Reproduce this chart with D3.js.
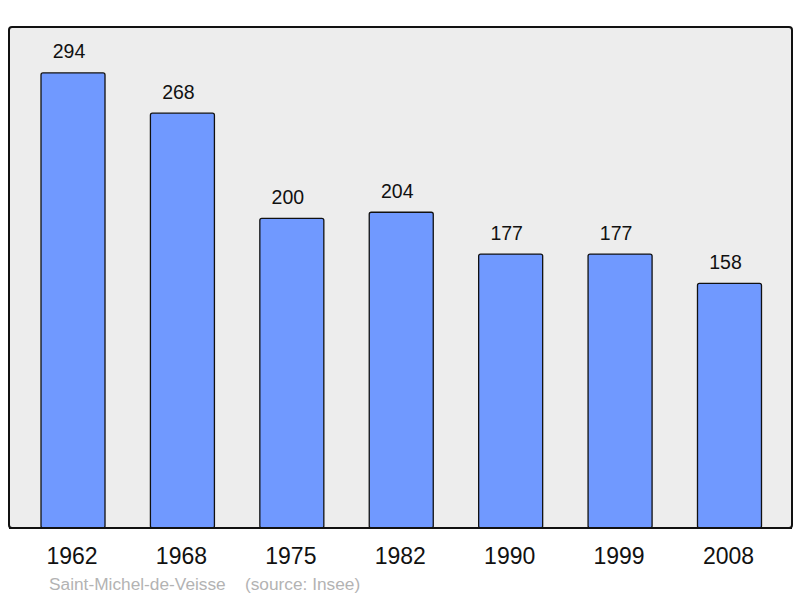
<!DOCTYPE html>
<html><head><meta charset="utf-8">
<script src="https://cdn.jsdelivr.net/npm/d3@7"></script>
<style>body{margin:0;background:#fff}svg{display:block}</style>
</head><body>
<script>
const years = ["1962","1968","1975","1982","1990","1999","2008"];
const population = [294,268,200,204,177,177,158];
const commune = "Saint-Michel-de-Veisse";
const source = "(source: Insee)";

const W = 800, H = 598;
const svg = d3.select("body").append("svg").attr("width", W).attr("height", H)
  .style("font-family", "'Liberation Sans', Arial, sans-serif");

const frame = {x0: 9, x1: 792, y0: 27, y1: 528};
const y = d3.scaleLinear().domain([0, 323.7]).range([frame.y1, frame.y0]);
const x = d3.scaleBand().domain(years).range([18.3, 784.2]).paddingInner(0.415).paddingOuter(0.2075);

svg.append("rect").attr("x", frame.x0).attr("y", frame.y0)
  .attr("width", frame.x1 - frame.x0).attr("height", frame.y1 - frame.y0)
  .attr("rx", 3).attr("fill", "#ededed").attr("stroke", "#111").attr("stroke-width", 2);

const data = years.map((yr, i) => ({yr, v: population[i]}));

svg.selectAll("rect.bar").data(data).join("rect").attr("class", "bar")
  .attr("x", d => x(d.yr)).attr("width", x.bandwidth())
  .attr("y", d => y(d.v)).attr("height", d => y(0) - y(d.v))
  .attr("rx", 2).attr("fill", "#7099ff").attr("stroke", "#111").attr("stroke-width", 1.3);

svg.append("line").attr("x1", frame.x0).attr("x2", frame.x1).attr("y1", frame.y1).attr("y2", frame.y1)
  .attr("stroke", "#111").attr("stroke-width", 2);

svg.selectAll("text.val").data(data).join("text").attr("class", "val")
  .attr("x", d => x(d.yr) + x.bandwidth() / 2 - 4).attr("y", d => y(d.v) - 14.5)
  .attr("text-anchor", "middle").attr("font-size", 19.5).attr("fill", "#111")
  .text(d => d.v);

const xAxis = svg.append("g").attr("transform", `translate(0,${frame.y1})`)
  .call(d3.axisBottom(x).tickSize(0).tickPadding(19.5));
xAxis.select(".domain").remove();
xAxis.selectAll("text").attr("font-size", 23).attr("fill", "#111").attr("dx", -1)
  .style("font-family", "'Liberation Sans', Arial, sans-serif");

svg.append("text").attr("x", 49).attr("y", 590).attr("font-size", 17.3).attr("fill", "#b3b3b3")
  .attr("xml:space", "preserve").text(commune + "    " + source);
</script>
</body></html>
